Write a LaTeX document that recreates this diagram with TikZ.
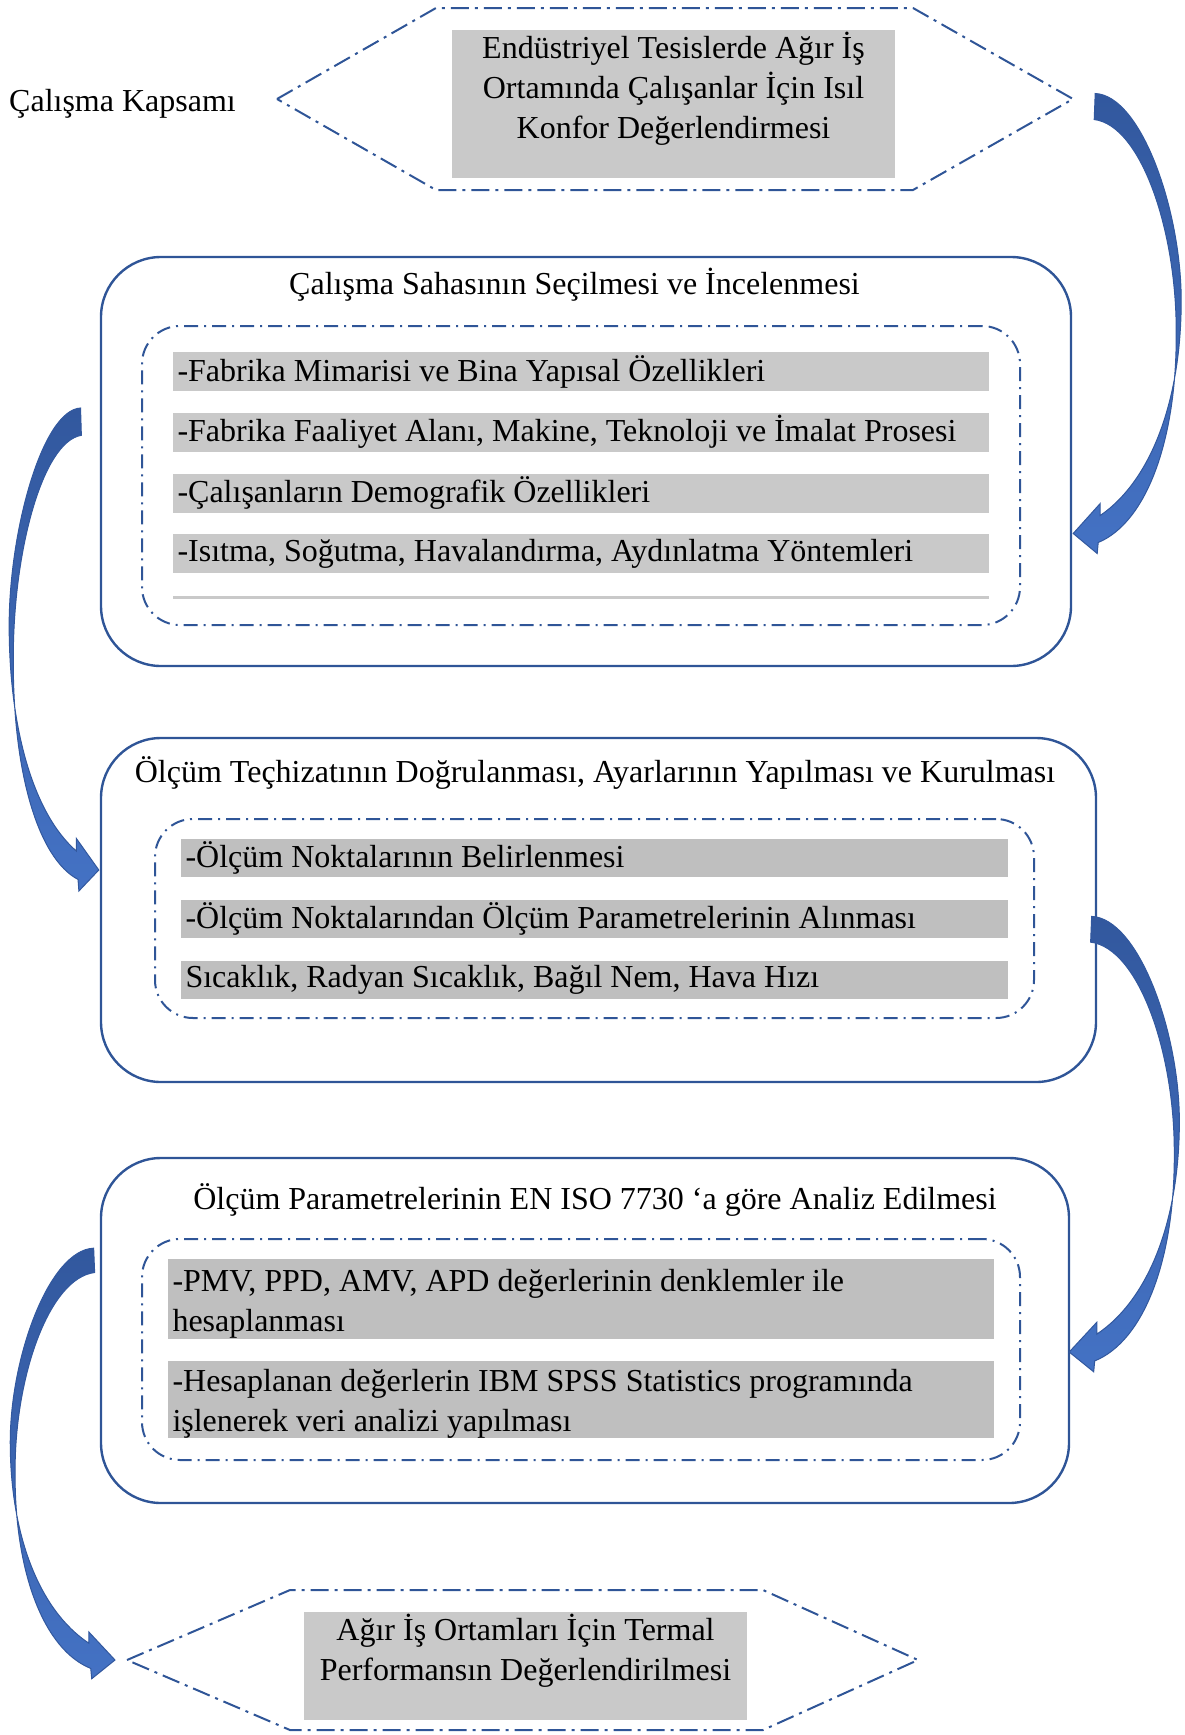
\documentclass[tikz,border=0pt]{standalone}
\usepackage{fontspec}
\setmainfont{Liberation Serif}
\usetikzlibrary{positioning, calc}

\definecolor{lineblue}{RGB}{47,85,151}
\definecolor{arrowdark}{RGB}{50,88,158}
\definecolor{arrowlight}{RGB}{68,114,196}
\definecolor{hexgrey}{RGB}{201,201,201}
\definecolor{bargrey}{RGB}{191,191,191}

\tikzset{
  pics/bendarrow/.style={code={
    \shadedraw[top color=arrowdark, bottom color=arrowlight, draw=arrowdark, line width=1pt]
      (22,-440) .. controls (68,-438) and (108,-323) .. (108,-233)
      .. controls (108,-133) and (78,-53) .. (27,-18)
      -- (27,-30) -- (0,0) -- (24,20) -- (25,9)
      .. controls (73,-11) and (104,-93) .. (103,-203)
      .. controls (103,-303) and (68,-408) .. (21,-414) -- cycle;
  }}
}

\begin{document}
\begin{tikzpicture}[x=1pt, y=-1pt, font=\fontsize{32}{40}\selectfont,
  hexline/.style={draw=lineblue, line width=2pt, dash pattern=on 18pt off 6pt on 3pt off 6pt},
  outerbox/.style={draw=lineblue, line width=2.4pt, rounded corners=60pt, inner sep=0pt},
  innerbox/.style={draw=lineblue, line width=2pt, rounded corners=38pt, inner sep=0pt, dash pattern=on 14pt off 6pt on 2pt off 6pt},
  greybox/.style={fill=hexgrey, inner sep=0pt},
  bar/.style={inner xsep=4.5pt, inner ysep=0pt, align=flush left},
  title/.style={inner sep=0pt}]
\useasboundingbox (0,0) rectangle (1185,1735);

% scope of the study
\node[anchor=west, inner sep=0pt] (kapsam) at (9,104) {Çalışma Kapsamı};
\draw[hexline] (277,99) -- (436,8) -- (913,8) -- (1073,99) -- (913,190) -- (436,190) -- cycle;
\node[greybox] (scope) at (673.5,104) {\parbox[t][148pt][t]{443pt}{\centering\strut Endüstriyel Tesislerde Ağır İş\\ Ortamında Çalışanlar İçin Isıl\\ Konfor Değerlendirmesi}};

% step 1
\node[outerbox, minimum width=970pt, minimum height=409pt] (site) at (586,461.5) {};
\node[title] (sitet) at (574.5,285) {Çalışma Sahasının Seçilmesi ve İncelenmesi};
\node[innerbox, minimum width=878pt, minimum height=299pt] (sitein) at (581,475.5) {};
\node[bar, fill=hexgrey, text width=807pt, minimum height=39pt] (s1) at (581,371.5) {-Fabrika Mimarisi ve Bina Yapısal Özellikleri};
\node[bar, fill=hexgrey, text width=807pt, minimum height=39pt] (s2) at (581,432) {-Fabrika Faaliyet Alanı, Makine, Teknoloji ve İmalat Prosesi};
\node[bar, fill=hexgrey, text width=807pt, minimum height=39pt] (s3) at (581,493) {-Çalışanların Demografik Özellikleri};
\node[bar, fill=hexgrey, text width=807pt, minimum height=39pt] (s4) at (581,553.5) {-Isıtma, Soğutma, Havalandırma, Aydınlatma Yöntemleri};
\node[fill=hexgrey, inner sep=0pt, minimum width=816pt, minimum height=3pt] (s5) at (581,597) {};

% step 2
\node[outerbox, minimum width=995pt, minimum height=344pt] (setup) at (598.5,910) {};
\node[title] (setupt) at (595,773) {Ölçüm Teçhizatının Doğrulanması, Ayarlarının Yapılması ve Kurulması};
\node[innerbox, minimum width=879pt, minimum height=199pt] (setupin) at (594.5,918.5) {};
\node[bar, fill=bargrey, text width=818pt, minimum height=38pt] (m1) at (594.5,858) {-Ölçüm Noktalarının Belirlenmesi};
\node[bar, fill=bargrey, text width=818pt, minimum height=38pt] (m2) at (594.5,919) {-Ölçüm Noktalarından Ölçüm Parametrelerinin Alınması};
\node[bar, fill=bargrey, text width=818pt, minimum height=38pt] (m3) at (594.5,979.5) {Sıcaklık, Radyan Sıcaklık, Bağıl Nem, Hava Hızı};

% step 3
\node[outerbox, minimum width=968pt, minimum height=345pt] (analysis) at (585,1330.5) {};
\node[title] (analysist) at (595,1200) {Ölçüm Parametrelerinin EN ISO 7730 ‘a göre Analiz Edilmesi};
\node[innerbox, minimum width=878pt, minimum height=221pt] (analysisin) at (581,1349.5) {};
\node[bar, fill=bargrey, text width=817pt, minimum height=80pt] (p1) at (581,1299) {\rule{0pt}{31pt}-PMV, PPD, AMV, APD değerlerinin denklemler ile\\ hesaplanması};
\node[bar, fill=bargrey, text width=817pt, minimum height=77pt] (p2) at (581,1399.5) {\rule{0pt}{31pt}-Hesaplanan değerlerin IBM SPSS Statistics programında\\ işlenerek veri analizi yapılması};

% result
\coordinate (resw) at (127,1660);
\draw[hexline] (resw) -- (290,1590) -- (763,1590) -- (918,1660) -- (763,1730) -- (290,1730) -- cycle;
\node[greybox] (result) at (525.5,1666) {\parbox[t][108pt][t]{443pt}{\centering\strut Ağır İş Ortamları İçin Termal\\ Performansın Değerlendirilmesi}};

% bent arrows
\pic at ($(site.east)+(1,72)$) {bendarrow};
\pic[xscale=-0.83, yscale=1.05] at ($(setup.west)+(-1,-40)$) {bendarrow};
\pic[xscale=1.02, yscale=0.99] at ($(analysis.east)+(-1,21.5)$) {bendarrow};
\pic[xscale=-0.97, yscale=0.936] at ($(resw)+(-12,0)$) {bendarrow};
\end{tikzpicture}
\end{document}
